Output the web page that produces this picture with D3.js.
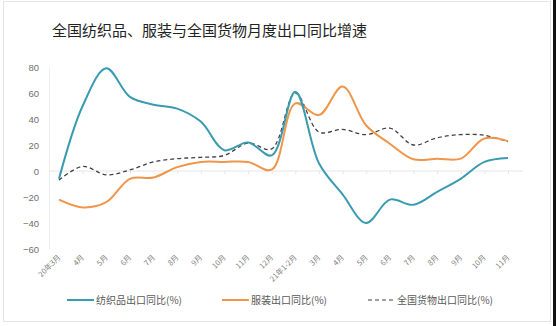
<!DOCTYPE html>
<html>
<head>
<meta charset="utf-8">
<script src="https://cdn.jsdelivr.net/npm/d3@7"></script>
<style>
  html, body { margin: 0; padding: 0; background: #fff; }
  svg { display: block; font-family: "Noto Sans CJK SC", "Microsoft YaHei", sans-serif; }
</style>
</head>
<body>
<svg id="chart" width="556" height="326"></svg>
<script>
// Months from March 2020 to November 2021
const months = ["20年3月", "4月", "5月", "6月", "7月", "8月", "9月", "10月", "11月", "12月",
                "21年1-2月", "3月", "4月", "5月", "6月", "7月", "8月", "9月", "10月", "11月"];

// Year-on-year export growth (%)
const textile = [-6, 50, 79, 57, 51, 48, 38, 16, 22, 12, 61, 6, -18, -40, -22, -26, -16, -6, 7, 10];
const apparel = [-22, -28, -24, -6, -5, 3, 7, 7, 7, 1, 52, 43, 65, 35, 21, 9, 9.5, 9.5, 25, 23];
const overall = [-7, 3.5, -3, 0.8, 7, 9.5, 10.5, 12, 21.5, 17, 60, 30, 32, 28, 33, 20, 25.6, 28, 27.5, 22.5];

const yTicks = [80, 60, 40, 20, 0, -20, -40, -60];

const series = [
  { name: "纺织品出口同比(%)", values: textile, color: "#3a9bb0", dash: null, width: 2 },
  { name: "服装出口同比(%)", values: apparel, color: "#f0954a", dash: null, width: 2 },
  { name: "全国货物出口同比(%)", values: overall, color: "#404040", dash: "4,3", width: 1.3 }
];

const svg = d3.select("#chart");

// frame
svg.append("rect").attr("x", 3.5).attr("y", 1.5).attr("width", 547).attr("height", 320)
  .attr("fill", "#fff").attr("stroke", "#e4e4e4");
svg.append("rect").attr("x", 553).attr("y", 0).attr("width", 3).attr("height", 326).attr("fill", "#111");

svg.append("text").attr("x", 52).attr("y", 36)
  .attr("font-size", 15).attr("fill", "#222")
  .text("全国纺织品、服装与全国货物月度出口同比增速");

// months repeat across years, so positions are keyed by index
const idx = months.map((m, i) => i);
const x = d3.scalePoint().domain(idx).range([59, 508]);
const y = d3.scaleLinear().domain([-60, 80]).range([249, 67]);

// y axis
const yAxis = svg.append("g").attr("transform", "translate(49,0)")
  .call(d3.axisLeft(y).tickValues(yTicks).tickSize(0).tickPadding(10));
yAxis.select(".domain").attr("stroke", "#eeeeee");
yAxis.selectAll("text").attr("fill", "#6f6f6f").attr("font-size", 9.5)
  .attr("font-family", "Liberation Sans, Arial, sans-serif");

// zero line with ticks
const xAxis = svg.append("g").attr("transform", `translate(0,${y(0)})`)
  .call(d3.axisBottom(x).tickSize(3).tickFormat(""));
xAxis.select(".domain").attr("d", `M49,0H523`).attr("stroke", "#e6e6e6");
xAxis.selectAll(".tick line").attr("stroke", "#e6e6e6");

// rotated month labels
svg.append("g").selectAll("text").data(idx).join("text")
  .attr("transform", i => `translate(${x(i) + 2},${258}) rotate(-45)`)
  .attr("text-anchor", "end")
  .attr("font-size", 7.5).attr("fill", "#808080")
  .text(i => months[i]);

const line = d3.line()
  .x((d, i) => x(i))
  .y(d => y(d))
  .curve(d3.curveCatmullRom.alpha(0.5));

series.slice().reverse().forEach(s => {
  svg.append("path").datum(s.values)
    .attr("d", line)
    .attr("fill", "none")
    .attr("stroke", s.color)
    .attr("stroke-width", s.width)
    .attr("stroke-dasharray", s.dash);
});

// legend
const legendX = [67, 222, 368];
const leg = svg.append("g").selectAll("g").data(series).join("g")
  .attr("transform", (d, i) => `translate(${legendX[i]},300)`);
leg.append("line").attr("x1", 0).attr("x2", 27).attr("y1", 0).attr("y2", 0)
  .attr("stroke", d => d.color).attr("stroke-width", d => d.dash ? 1.2 : 2)
  .attr("stroke-dasharray", d => d.dash);
leg.append("text").attr("x", 29).attr("y", 4)
  .attr("font-size", 10).attr("fill", "#595959")
  .text(d => d.name);
</script>
</body>
</html>
